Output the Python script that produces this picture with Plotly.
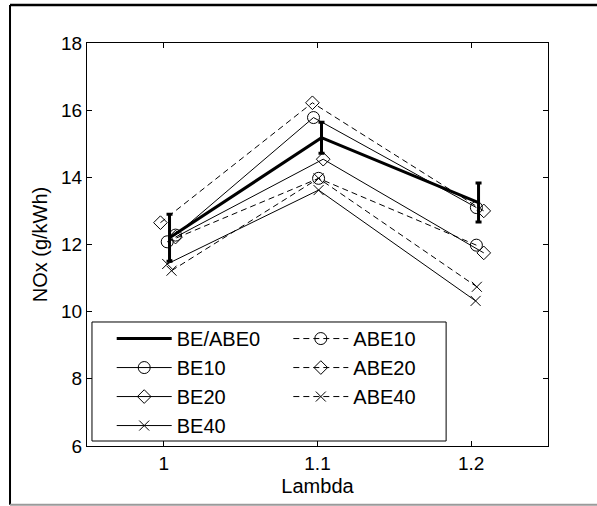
import plotly.graph_objects as go

# Measured NOx emissions (g/kWh) against excess-air ratio (lambda)
# Each fuel has its own measured lambda values around the nominal 1.0 / 1.1 / 1.2 settings.
lam_base = [1.0037, 1.1026, 1.2048]
nox_base = [12.20, 15.18, 13.25]
nox_base_err = [0.70, 0.46, 0.58]

lam_be10 = [1.0076, 1.0974, 1.2034]
nox_be10 = [12.28, 15.78, 13.10]

lam_be20 = [1.0076, 1.1037, 1.2082]
nox_be20 = [12.22, 14.54, 11.75]

lam_be40 = [1.0022, 1.1007, 1.2029]
nox_be40 = [11.42, 13.62, 10.32]

lam_abe10 = [1.0022, 1.1007, 1.2034]
nox_abe10 = [12.08, 13.97, 11.98]

lam_abe20 = [0.9978, 1.0967, 1.2082]
nox_abe20 = [12.65, 16.22, 13.00]

lam_abe40 = [1.0050, 1.1007, 1.2037]
nox_abe40 = [11.22, 13.97, 10.74]

x_ticks = [1.0, 1.1, 1.2]
x_ticklabels = ["1", "1.1", "1.2"]

FONT = "Liberation Sans, Arial, sans-serif"
DASH = "6px,4px"

fig = go.Figure()

fig.add_trace(go.Scatter(
    x=lam_base, y=nox_base, name="BE/ABE0", mode="lines",
    line=dict(color="black", width=3),
    error_y=dict(type="data", array=nox_base_err, color="black", thickness=3, width=3),
    legend="legend",
))

series = [
    ("BE10", lam_be10, nox_be10, "circle-open", "solid", 12, "legend"),
    ("BE20", lam_be20, nox_be20, "diamond-open", "solid", 10.5, "legend"),
    ("BE40", lam_be40, nox_be40, "x-thin-open", "solid", 10, "legend"),
    ("ABE10", lam_abe10, nox_abe10, "circle-open", DASH, 12, "legend2"),
    ("ABE20", lam_abe20, nox_abe20, "diamond-open", DASH, 10.5, "legend2"),
    ("ABE40", lam_abe40, nox_abe40, "x-thin-open", DASH, 10, "legend2"),
]
for name, xs, ys, sym, dash, size, leg in series:
    fig.add_trace(go.Scatter(
        x=xs, y=ys, name=name, mode="lines+markers",
        line=dict(color="black", width=1, dash=dash),
        marker=dict(symbol=sym, size=size, color="black", line=dict(width=1, color="black")),
        legend=leg,
    ))

axis_common = dict(
    showline=True, linecolor="black", linewidth=1, mirror="ticks",
    ticks="inside", ticklen=5, tickwidth=1, tickcolor="black",
    showgrid=False, zeroline=False,
    tickfont=dict(family=FONT, size=19, color="black"),
    title_font=dict(family=FONT, size=20, color="black"),
)

fig.update_xaxes(
    range=[0.95, 1.25], tickvals=x_ticks, ticktext=x_ticklabels,
    title_text="Lambda", title_standoff=6, **axis_common,
)
fig.update_yaxes(
    range=[6, 18], dtick=2, title_text="NOx (g/kWh)", title_standoff=8,
    **axis_common,
)

legend_common = dict(
    bgcolor="rgba(0,0,0,0)", borderwidth=0,
    font=dict(family=FONT, size=20, color="black"),
    traceorder="normal", itemwidth=55,
    xanchor="left", yanchor="top",
)
fig.update_layout(
    legend=dict(x=0.0536, y=0.315, **legend_common),
    legend2=dict(x=0.4367, y=0.315, **legend_common),
)

# Legend frame
fig.add_shape(type="rect", xref="paper", yref="paper",
              x0=0.0108, x1=0.779, y0=0.0124, y1=0.3077,
              line=dict(color="black", width=1), fillcolor="white", layer="below")
# Outer figure frame: left and top in black, bottom in grey
fig.add_shape(type="line", xref="paper", yref="paper",
              x0=-0.167, x1=-0.167, y0=-0.146, y1=1.0943,
              line=dict(color="black", width=2))
fig.add_shape(type="line", xref="paper", yref="paper",
              x0=-0.167, x1=1.15, y0=1.0943, y1=1.0943,
              line=dict(color="black", width=2.5))
fig.add_shape(type="line", xref="paper", yref="paper",
              x0=-0.167, x1=1.15, y0=-0.146, y1=-0.146,
              line=dict(color="#9a9a9a", width=2))

fig.update_layout(
    width=597, height=506,
    margin=dict(l=87, r=49, t=43, b=60),
    paper_bgcolor="white", plot_bgcolor="white",
    showlegend=True,
    font=dict(family=FONT, size=18, color="black"),
)

fig.write_html("out.html")
